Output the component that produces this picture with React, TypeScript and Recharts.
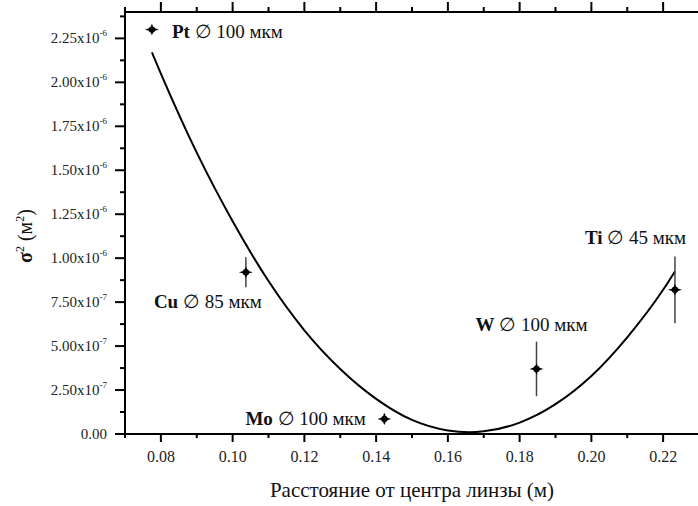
import { ComposedChart, Line, Scatter, XAxis, YAxis, ErrorBar } from "recharts";

// measured samples
const sampleNames = ["Pt", "Cu", "Mo", "W", "Ti"];
const sampleDiameters = ["100", "85", "100", "100", "45"];
const sampleX = [0.0775, 0.1037, 0.1423, 0.1847, 0.2233];
const sampleSigma = [2.3e-6, 0.92e-6, 0.086e-6, 0.37e-6, 0.82e-6];
const sampleErr = [0.02e-6, 0.085e-6, 0.03e-6, 0.155e-6, 0.19e-6];

// fitted curve
const fitX = [0.0775, 0.08, 0.09, 0.1, 0.11, 0.12, 0.13, 0.14, 0.15, 0.16, 0.166, 0.17, 0.18, 0.19, 0.2, 0.21, 0.22, 0.2233];
const fitSigma = [2.17e-6, 2.05e-6, 1.6e-6, 1.21e-6, 0.87e-6, 0.59e-6, 0.37e-6, 0.2e-6, 0.08e-6, 0.02e-6, 0.01e-6, 0.015e-6, 0.065e-6, 0.17e-6, 0.33e-6, 0.55e-6, 0.82e-6, 0.925e-6];

const xTicks = [0.07, 0.08, 0.09, 0.1, 0.11, 0.12, 0.13, 0.14, 0.15, 0.16, 0.17, 0.18, 0.19, 0.2, 0.21, 0.22];
const yTicks = [0, 0.125e-6, 0.25e-6, 0.375e-6, 0.5e-6, 0.625e-6, 0.75e-6, 0.875e-6, 1e-6, 1.125e-6, 1.25e-6, 1.375e-6, 1.5e-6, 1.625e-6, 1.75e-6, 1.875e-6, 2e-6, 2.125e-6, 2.25e-6, 2.375e-6];

// label placement relative to marker (px)
const labelOffsets: Record<string, [number, number]> = {
  Pt: [20, 8],
  Cu: [-92, 36],
  Mo: [-139, 6],
  W: [-61, -38],
  Ti: [-90, -46],
};

const FONT = "'Times New Roman', 'Liberation Serif', 'DejaVu Serif', serif";
const serif = { fontFamily: FONT };

const points = sampleNames.map((n, i) => ({ name: n, d: sampleDiameters[i], x: sampleX[i], y: sampleSigma[i], err: sampleErr[i] }));
const curve = fitX.map((x, i) => ({ x, y: fitSigma[i] }));

const isMajorX = (v: number) => Math.round(v * 100) % 2 === 0;

function XTickBottom(props: any) {
  const { x, y, payload } = props;
  const major = isMajorX(payload.value);
  const axisY = y - 12;
  return (
    <g>
      <line x1={x} x2={x} y1={axisY} y2={axisY + (major ? 8 : 4)} stroke="#000" strokeWidth={2} />
      {major && payload.value > 0.075 && (
        <text x={x} y={y + 16} textAnchor="middle" style={serif} fontSize={16} fill="#222">
          {payload.value.toFixed(2)}
        </text>
      )}
    </g>
  );
}

function XTickTop(props: any) {
  const { x, payload } = props;
  const major = isMajorX(payload.value);
  return <line x1={x} x2={x} y1={12} y2={major ? 2 : 7} stroke="#000" strokeWidth={2} />;
}

function YTick(props: any) {
  const { x, y, payload, index } = props;
  const major = index % 2 === 0;
  const axisX = x + 18;
  const v = payload.value;
  let label = null;
  if (major) {
    if (v === 0) {
      label = (
        <text x={x} y={y + 5} textAnchor="end" style={serif} fontSize={15} fill="#222">0.00</text>
      );
    } else {
      const exp = v >= 0.999e-6 ? -6 : -7;
      const mant = (v / Math.pow(10, exp)).toFixed(2);
      label = (
        <text x={x} y={y + 5} textAnchor="end" style={serif} fontSize={15} fill="#222">
          {mant}x10<tspan dy={-7} fontSize={9}>{exp}</tspan>
        </text>
      );
    }
  }
  return (
    <g>
      <line x1={axisX} x2={axisX - (major ? 10 : 5)} y1={y} y2={y} stroke="#000" strokeWidth={2} />
      {label}
    </g>
  );
}

function Marker(props: any) {
  const { cx, cy, payload } = props;
  const p = payload || props;
  const [dx, dy] = labelOffsets[p.name] || [0, 0];
  const star = `${cx},${cy - 6} ${cx + 1.6},${cy - 1.6} ${cx + 7},${cy} ${cx + 1.6},${cy + 1.6} ${cx},${cy + 6} ${cx - 1.6},${cy + 1.6} ${cx - 7},${cy} ${cx - 1.6},${cy - 1.6}`;
  return (
    <g>
      <polygon points={star} fill="#000" />
      <circle cx={cx} cy={cy} r={3.2} fill="#000" />
      <text x={cx + dx} y={cy + dy} style={serif} fontSize={19} fill="#111">
        <tspan fontWeight="bold">{p.name}</tspan>
        <tspan> ∅ {p.d} мкм</tspan>
      </text>
    </g>
  );
}

function YLabel(props: any) {
  const vb = props.viewBox;
  const cx = vb.x + 32;
  const cy = vb.y + vb.height / 2 + 13;
  return (
    <text x={cx} y={cy} transform={`rotate(-90 ${cx} ${cy})`} textAnchor="middle" style={serif} fontSize={20} fill="#111">
      <tspan fontWeight="bold">σ</tspan>
      <tspan dy={-8} fontSize={12}>2</tspan>
      <tspan dy={8}> (м</tspan>
      <tspan dy={-8} fontSize={12}>2</tspan>
      <tspan dy={8}>)</tspan>
    </text>
  );
}

export default function App() {
  return (
    <div style={{ position: "absolute", left: 0, top: 0, width: 698, height: 506, overflow: "hidden", background: "#fff", fontFamily: FONT }}>
      <ComposedChart width={700} height={506} margin={{ top: 0, right: 1, bottom: 0, left: 0 }} style={serif}>
        <XAxis
          xAxisId="bottom"
          dataKey="x"
          type="number"
          domain={[0.07, 0.23]}
          ticks={xTicks}
          interval={0}
          allowDataOverflow
          height={72}
          tickSize={8}
          tickMargin={4}
          tickLine={false}
          axisLine={{ stroke: "#000", strokeWidth: 2 }}
          tick={<XTickBottom />}
          label={{ value: "Расстояние от центра линзы (м)", position: "insideBottom", offset: 9, style: serif, fontSize: 21, fill: "#111" }}
        />
        <XAxis
          xAxisId="top"
          orientation="top"
          dataKey="x"
          type="number"
          domain={[0.07, 0.23]}
          ticks={xTicks}
          interval={0}
          allowDataOverflow
          height={12}
          tickSize={10}
          tickMargin={0}
          tickLine={false}
          axisLine={{ stroke: "#000", strokeWidth: 2 }}
          tick={<XTickTop />}
        />
        <YAxis
          type="number"
          domain={[0, 2.4e-6]}
          ticks={yTicks}
          interval={0}
          allowDataOverflow
          width={125}
          tickSize={10}
          tickMargin={8}
          tickLine={false}
          axisLine={{ stroke: "#000", strokeWidth: 2 }}
          tick={<YTick />}
          label={{ content: <YLabel /> }}
        />
        <Line
          xAxisId="bottom"
          data={curve}
          dataKey="y"
          type="monotone"
          stroke="#000"
          strokeWidth={2}
          dot={false}
          isAnimationActive={false}
        />
        <Scatter xAxisId="bottom" data={points} dataKey="y" shape={<Marker />} isAnimationActive={false}>
          <ErrorBar dataKey="err" direction="y" width={0} stroke="#444" strokeWidth={1.5} />
        </Scatter>
      </ComposedChart>
    </div>
  );
}
